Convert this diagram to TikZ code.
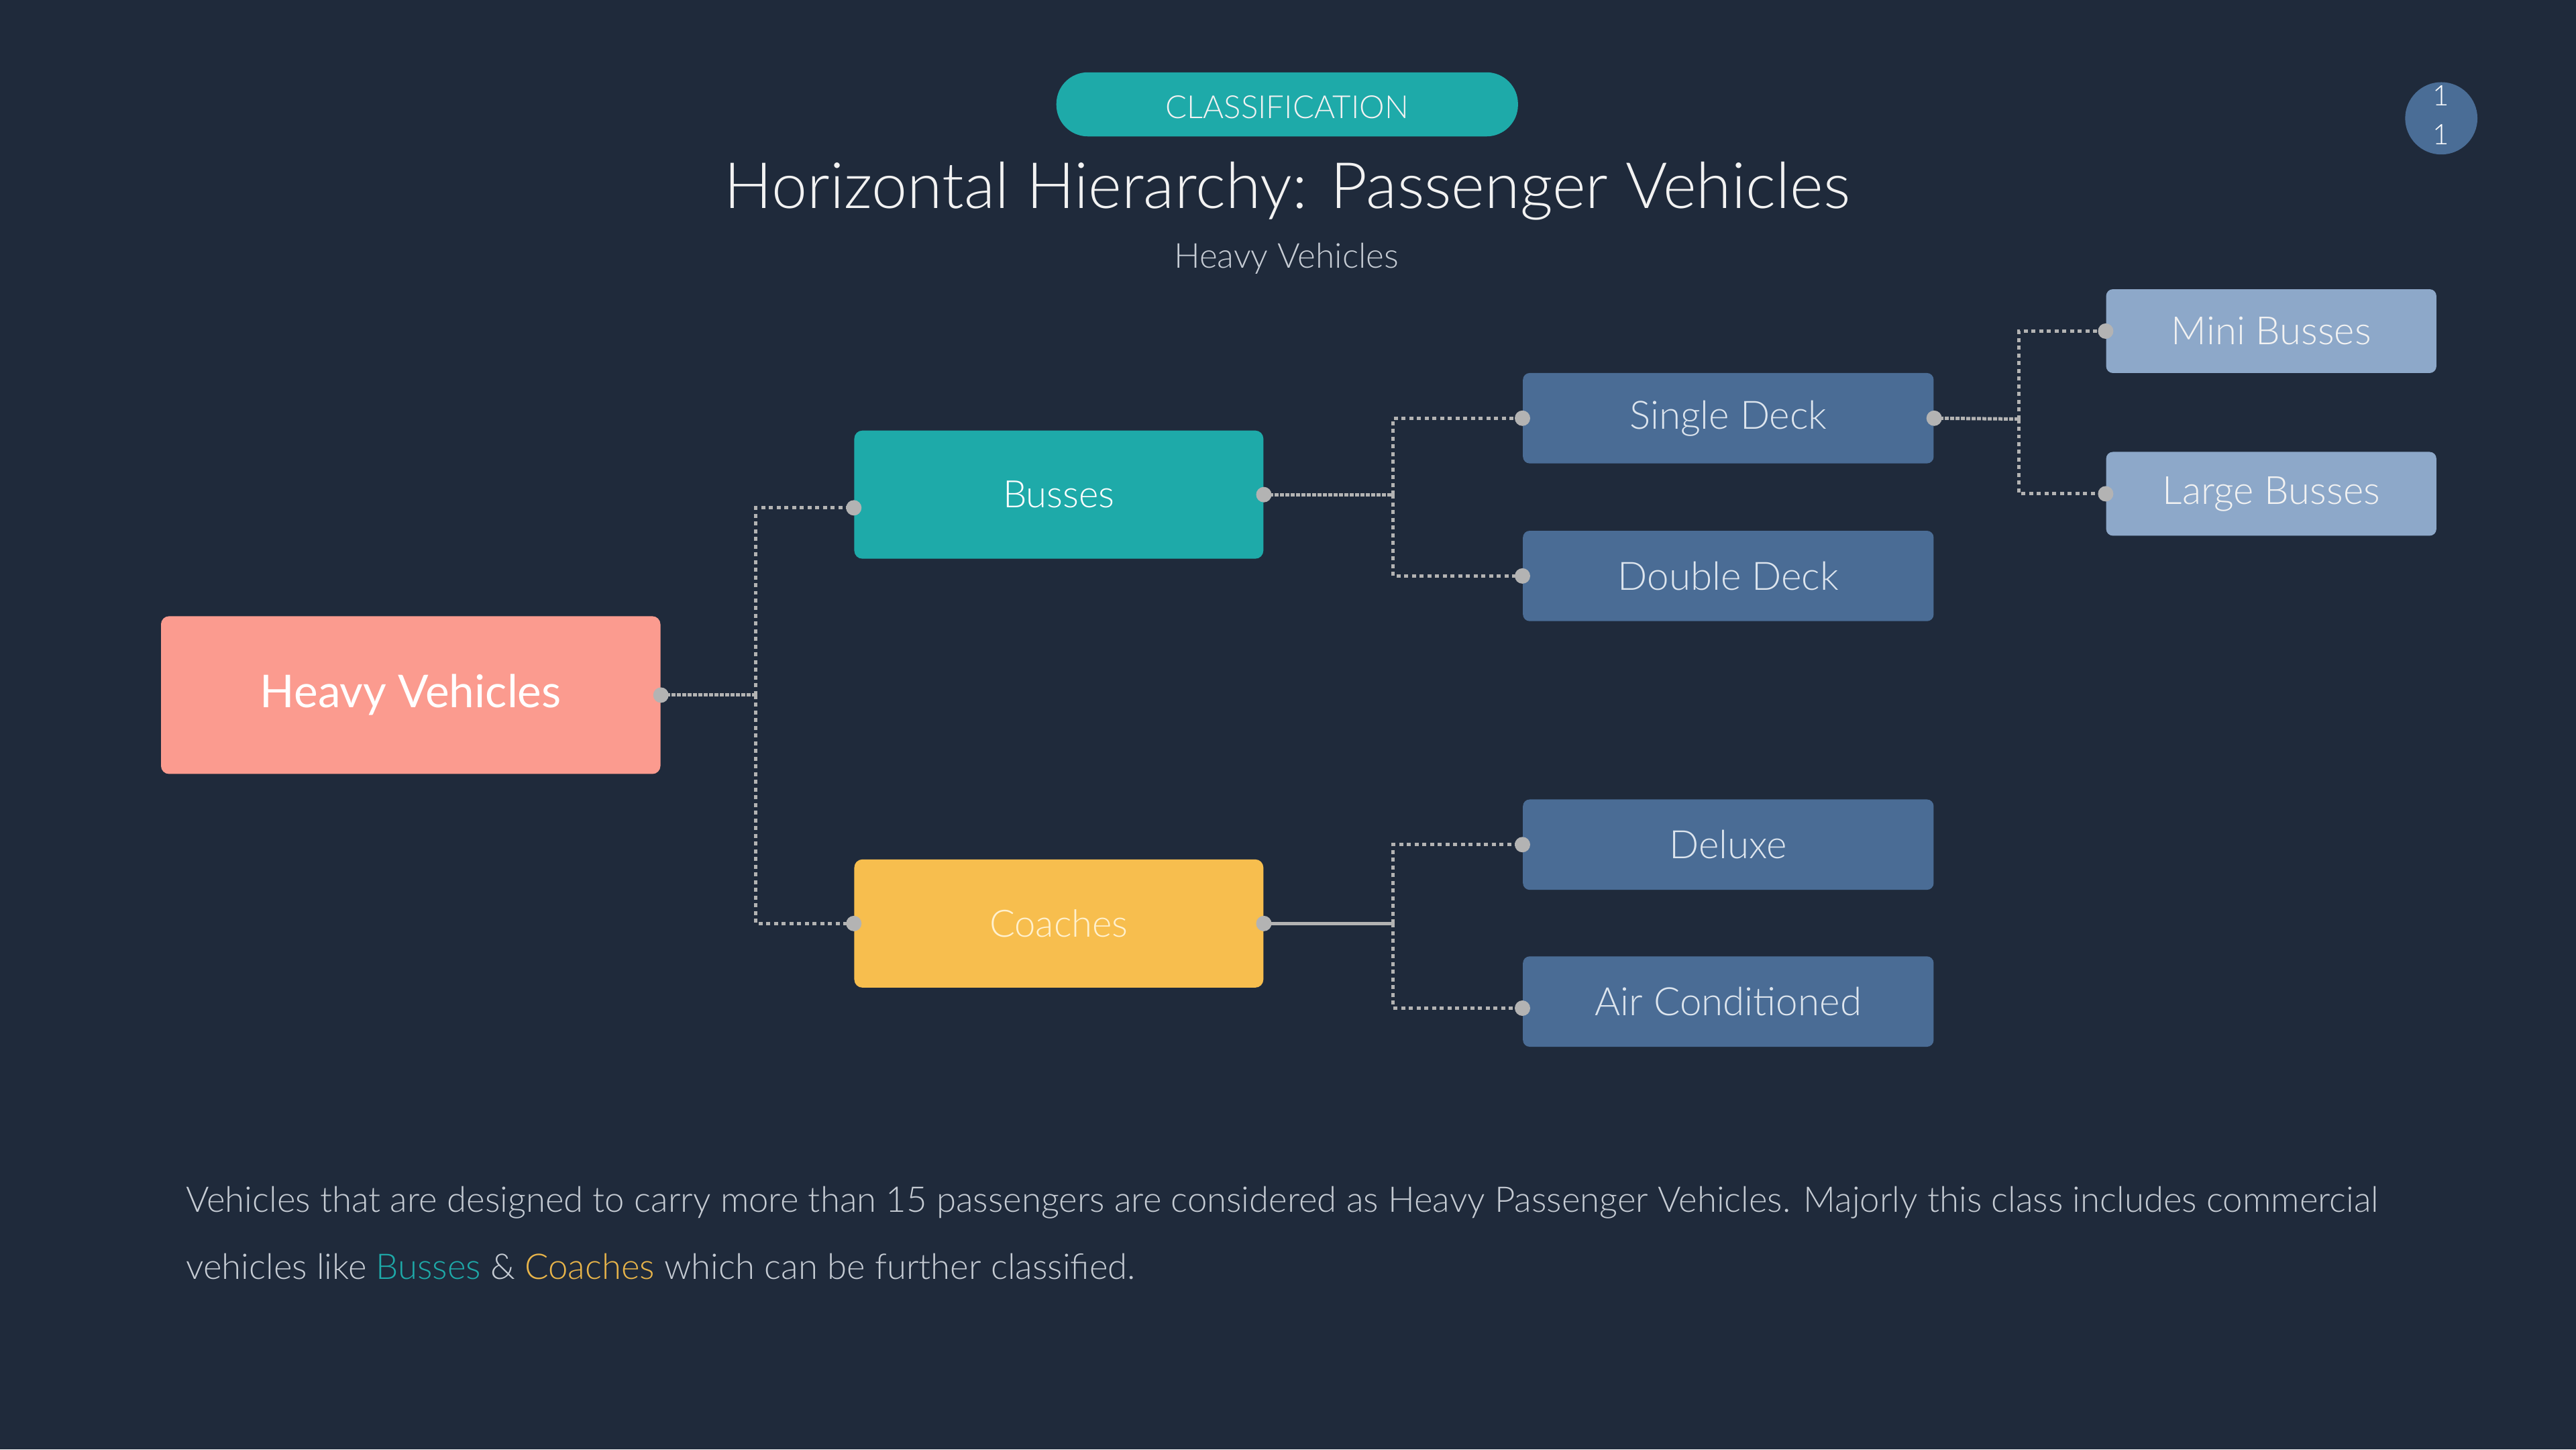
\documentclass[tikz,border=0pt]{standalone}
\usepackage{fontspec}
\setmainfont{Lato Light}
\newfontfamily\regularfont{Lato}

\definecolor{bgnavy}{HTML}{1F2A3B}
\definecolor{tealc}{HTML}{1EAAA9}
\definecolor{salmonc}{HTML}{FB9B8F}
\definecolor{yellowc}{HTML}{F7BE4E}
\definecolor{goldc}{HTML}{E9B54A}
\definecolor{creamc}{HTML}{FFF1CF}
\definecolor{midbluec}{HTML}{4A6C95}
\definecolor{lightbluec}{HTML}{8DA8C9}
\definecolor{pagec}{HTML}{4A6D96}
\definecolor{dotgray}{HTML}{B3B3B3}
\definecolor{titlec}{HTML}{F2F2F2}
\definecolor{bodyc}{HTML}{C6CCD4}
\definecolor{leaftextc}{HTML}{DDE5EE}

\begin{document}
\begin{tikzpicture}[x=0.245mm, y=-0.245mm,
  rootbox/.style={rounded corners=1.2mm, inner sep=0pt, fill=salmonc, text=white,
    minimum width=304*0.245mm, minimum height=96*0.245mm, font=\regularfont\fontsize{19.2}{23}\selectfont},
  midbox/.style={rounded corners=1.2mm, inner sep=0pt, text=white,
    minimum width=249*0.245mm, minimum height=78*0.245mm, font=\fontsize{16}{19}\selectfont},
  leafbox/.style={rounded corners=1mm, inner sep=0pt, fill=midbluec, text=leaftextc,
    minimum width=250*0.245mm, minimum height=55*0.245mm, font=\fontsize{16.6}{20}\selectfont},
  subbox/.style={rounded corners=1mm, inner sep=0pt, fill=lightbluec, text=titlec,
    minimum width=201*0.245mm, minimum height=51*0.245mm, font=\fontsize{16.5}{20}\selectfont},
  link/.style={draw=dotgray, line width=0.5mm, dash pattern=on 0.6mm off 0.55mm},
  stub/.style={draw=dotgray, line width=0.5mm, dash pattern=on 0.6mm off 0.2mm},
  solidstub/.style={draw=dotgray, line width=0.5mm},
  desc/.style={anchor=base west, inner sep=0pt, text=bodyc, font=\fontsize{15}{18}\selectfont}]

  % Background
  \fill[bgnavy] (0,0) rectangle (1568,882);
  \useasboundingbox (0,0) rectangle (1568,882);

  % Header
  \node[rounded corners=4.7mm, fill=tealc, text=titlec, inner sep=0pt,
    minimum width=281*0.245mm, minimum height=39*0.245mm] (tag) at (783.5,63.5) {};
  \node[anchor=base, inner sep=0pt, text=titlec, font=\fontsize{13.5}{16}\selectfont] (tagtext) at (783.5,72) {CLASSIFICATION};
  \node[anchor=base, inner sep=0pt, text=titlec, font=\fontsize{27.1}{31}\selectfont] (title) at (783.5,126.6) {Horizontal Hierarchy: Passenger Vehicles};
  \node[anchor=base, inner sep=0pt, text=bodyc, font=\fontsize{14.6}{17}\selectfont] (subtitle) at (783,163.3) {Heavy Vehicles};

  % Page badge
  \node[circle, fill=pagec, inner sep=0pt, minimum size=44*0.245mm] (badge) at (1486,72) {};
  \node[anchor=base, inner sep=0pt, text=white, font=\fontsize{12}{14}\selectfont] (badgetop) at (1486,64.2) {1};
  \node[anchor=base, inner sep=0pt, text=white, font=\fontsize{12}{14}\selectfont] (badgebot) at (1486,87.8) {1};

  % Define the boxes
  \node[rootbox] (heavy) at (250,423) {Heavy Vehicles};
  \node[midbox, fill=tealc] (busses) at (644.5,301) {Busses};
  \node[midbox, fill=yellowc, text=creamc] (coaches) at (644.5,562) {Coaches};
  \node[leafbox] (single) at (1052,254.5) {Single Deck};
  \node[leafbox] (double) at (1052,350.5) {Double Deck};
  \node[leafbox] (deluxe) at (1052,514) {Deluxe};
  \node[leafbox] (aircon) at (1052,609.5) {Air Conditioned};
  \node[subbox] (mini) at (1382.5,201.5) {Mini Busses};
  \node[subbox] (large) at (1382.5,300.5) {Large Busses};

  % Define the joints
  \coordinate (j1) at (460,423);
  \coordinate (j2) at (848,301);
  \coordinate (j3) at (1229,255);
  \coordinate (j4) at (848,562);
  \coordinate (bussesin) at ([yshift=-5.6pt]busses.west);
  \coordinate (airconin) at ([yshift=-2.8pt]aircon.west);

  % Draw the edges
  \draw[stub] (heavy.east) -- (j1);
  \draw[link] (j1) |- (bussesin);
  \draw[link] (j1) |- (coaches.west);
  \draw[stub] (busses.east) -- (j2);
  \draw[link] (j2) |- (single.west);
  \draw[link] (j2) |- (double.west);
  \draw[stub] (single.east) -- (j3);
  \draw[link] (j3) |- (mini.west);
  \draw[link] (j3) |- (large.west);
  \draw[solidstub] (coaches.east) -- (j4);
  \draw[link] (j4) |- (deluxe.west);
  \draw[link] (j4) |- (airconin);

  % Draw the end points
  \foreach \pt in {heavy.east, bussesin, coaches.west, busses.east, single.west, double.west,
                   single.east, mini.west, large.west, coaches.east, deluxe.west, airconin}
    \fill[dotgray] (\pt) circle (1.15mm);

  % Description
  \node[desc] (line1) at (113,737.5) {Vehicles that are designed to carry more than 15 passengers are considered as Heavy Passenger Vehicles. Majorly this class includes commercial};
  \node[desc] (line2) at (113,778.3) {vehicles like \textcolor{tealc}{Busses} \& \textcolor{goldc}{Coaches} which can be further classified.};
\end{tikzpicture}
\end{document}
